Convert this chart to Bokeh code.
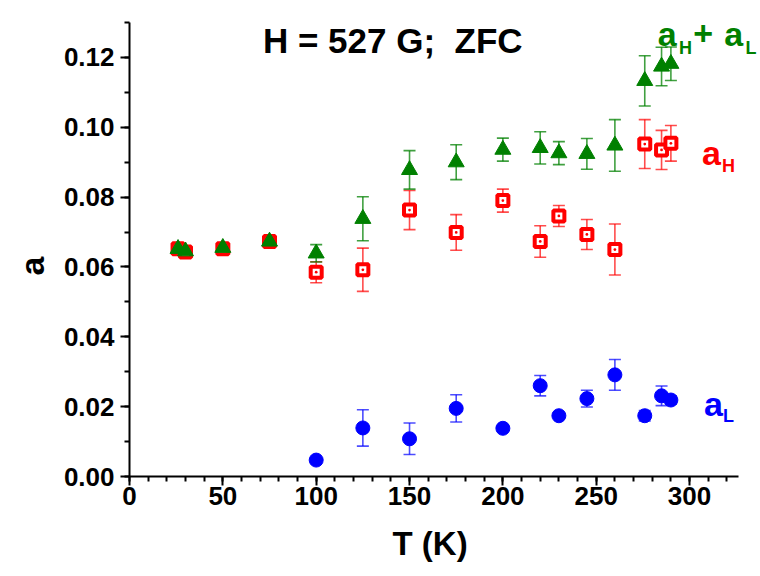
from bokeh.plotting import figure
from bokeh.models import (ColumnDataSource, Whisker, TeeHead, Label, Range1d,
                          SingleIntervalTicker, NumeralTickFormatter, Title)
from bokeh.embed import file_html
from bokeh.resources import INLINE

# ---------------- data ----------------
T = [26, 30, 50, 75, 100, 125, 150, 175, 200, 220, 230, 245, 260, 276, 285, 290]
a_sum = [0.0652, 0.0645, 0.0655, 0.0673, 0.0639, 0.0738, 0.0878, 0.0900, 0.0936,
         0.0941, 0.0926, 0.0924, 0.0948, 0.1133, 0.1174, 0.1182]
a_sum_err = [0, 0, 0, 0, 0.0025, 0.0063, 0.0055, 0.0050, 0.0033, 0.0046, 0.0033,
             0.0044, 0.0074, 0.0072, 0.0055, 0.0048]
a_H = [0.0652, 0.0643, 0.0652, 0.0673, 0.0585, 0.0592, 0.0763, 0.0699, 0.0790,
       0.0673, 0.0746, 0.0693, 0.0650, 0.0952, 0.0935, 0.0954]
a_H_err = [0, 0, 0, 0, 0.0030, 0.0062, 0.0056, 0.0051, 0.0033, 0.0045, 0.0030,
           0.0043, 0.0073, 0.0070, 0.0056, 0.0051]
T_L = [100, 125, 150, 175, 200, 220, 230, 245, 260, 276, 285, 290]
a_L = [0.0047, 0.0139, 0.0108, 0.0195, 0.0138, 0.0260, 0.0174, 0.0223, 0.0291,
       0.0174, 0.0231, 0.0219]
a_L_err = [0, 0.0052, 0.0045, 0.0039, 0, 0.0029, 0, 0.0024, 0.0044, 0.0015,
           0.0028, 0.0012]

title_text = "H = 527 G;\u00a0 ZFC"
x_label = "T (K)"
y_label = "a"

GREEN = "#008000"
RED = "#ff0000"
BLUE = "#0000ff"
FONT = "Liberation Sans"

X_AXIS_END = 326
p = figure(width=760, height=576, output_backend="svg", toolbar_location=None,
           x_range=Range1d(0, 338), y_range=Range1d(0, 0.13),
           min_border_left=129, min_border_right=0, min_border_top=22,
           min_border_bottom=100)
p.outline_line_color = None
p.xgrid.visible = False
p.ygrid.visible = False
p.background_fill_color = "white"
p.border_fill_color = "white"

for ax in (p.xaxis[0], p.yaxis[0]):
    ax.axis_line_width = 2
    ax.axis_line_color = "black"
    ax.major_tick_line_width = 2
    ax.minor_tick_line_width = 2
    ax.major_tick_in = 0
    ax.major_tick_out = 9
    ax.minor_tick_in = 0
    ax.minor_tick_out = 5
    ax.major_label_text_font = FONT
    ax.major_label_text_font_style = "bold"
    ax.major_label_text_font_size = "26px"
    ax.major_label_text_color = "black"

p.xaxis[0].bounds = (0, X_AXIS_END)
p.xaxis[0].ticker = SingleIntervalTicker(interval=50, num_minor_ticks=5)
p.yaxis[0].ticker = SingleIntervalTicker(interval=0.02, num_minor_ticks=2)
p.yaxis[0].formatter = NumeralTickFormatter(format="0.00")
p.xaxis[0].major_label_standoff = 1
p.yaxis[0].major_label_standoff = 6

# axis titles as side-panel titles so they can be offset like the reference
p.add_layout(Title(text=x_label, align="left", offset=263, standoff=30,
                   text_font=FONT, text_font_style="bold",
                   text_line_height=1.0,
                   text_font_size="33px", text_color="black"), "below")
p.add_layout(Title(text=y_label, align="left", offset=201, standoff=19,
                   text_font=FONT, text_font_style="bold",
                   text_line_height=1.0,
                   text_font_size="34px", text_color="black"), "left")


def err_source(xs, ys, es):
    xx, up, lo = [], [], []
    for x, y, e in zip(xs, ys, es):
        if e > 0:
            xx.append(x)
            up.append(y + e)
            lo.append(y - e)
    return ColumnDataSource(dict(x=xx, upper=up, lower=lo))


def add_err(xs, ys, es, color, alpha):
    w = Whisker(base="x", upper="upper", lower="lower",
                source=err_source(xs, ys, es), line_color=color,
                line_width=1.6, line_alpha=alpha, level="underlay",
                upper_head=TeeHead(size=12, line_color=color, line_width=1.6,
                                   line_alpha=alpha),
                lower_head=TeeHead(size=12, line_color=color, line_width=1.6,
                                   line_alpha=alpha))
    p.add_layout(w)


add_err(T_L, a_L, a_L_err, BLUE, 0.7)
add_err(T, a_H, a_H_err, RED, 0.7)
add_err(T, a_sum, a_sum_err, GREEN, 0.75)

p.scatter(T_L, a_L, marker="circle", size=14, fill_color=BLUE, line_color=BLUE)
p.scatter(T, a_H, marker="square_dot", size=11, fill_color="white",
          line_color=RED, line_width=4)
p.scatter(T, a_sum, marker="triangle", size=16, fill_color=GREEN,
          line_color=GREEN)


def lab(x, y, text, color, size, align="left"):
    p.add_layout(Label(x=x, y=y, text=text, text_color=color,
                       text_font=FONT, text_font_style="bold",
                       text_font_size=size, text_align=align,
                       text_baseline="alphabetic"))


lab(141, 0.1248, title_text, "black", "35px", "center")

# a_H + a_L
lab(283.0, 0.1268, "a", GREEN, "34px")
lab(294.4, 0.1228, "H", GREEN, "18px")
lab(302.0, 0.1268, "+", GREEN, "34px")
lab(318.6, 0.1268, "a", GREEN, "34px")
lab(330.0, 0.1228, "L", GREEN, "18px")
# a_H
lab(306.6, 0.0927, "a", RED, "34px")
lab(317.4, 0.0890, "H", RED, "18px")
# a_L
lab(307.7, 0.0208, "a", BLUE, "34px")
lab(317.9, 0.0174, "L", BLUE, "18px")

open("out.html", "w").write(file_html(p, INLINE))
